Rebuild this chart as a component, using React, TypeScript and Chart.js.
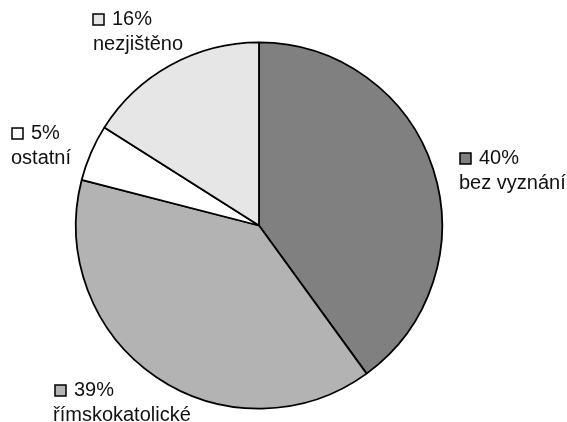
import React, { useEffect, useRef } from "react";
import { Chart, registerables } from "chart.js";

Chart.register(...registerables);

const categories = ["bez vyznání", "římskokatolické", "ostatní", "nezjištěno"];
const values = [40, 39, 5, 16];
const percentLabels = ["40%", "39%", "5%", "16%"];
const colors = ["#808080", "#b3b3b3", "#ffffff", "#e6e6e6"];
// label anchor (square left x, first-line baseline y, second-line x)
const labelPos = [
  [460, 164, 459],
  [55, 396, 53],
  [12, 139, 11],
  [93, 25, 93],
];

const labelPlugin = {
  id: "sliceLabels",
  afterDraw(chart: any) {
    const ctx = chart.ctx;
    ctx.save();
    ctx.font = '20px "Liberation Sans", Arial, sans-serif';
    ctx.textBaseline = "alphabetic";
    ctx.textAlign = "left";
    categories.forEach((cat, i) => {
      const [x, y, x2] = labelPos[i];
      const sq = 11;
      ctx.fillStyle = colors[i];
      ctx.fillRect(x, y - sq, sq, sq);
      ctx.strokeStyle = "#000";
      ctx.lineWidth = 1.5;
      ctx.strokeRect(x, y - sq, sq, sq);
      ctx.fillStyle = "#111";
      ctx.fillText(percentLabels[i], x + 19, y);
      ctx.fillText(cat, x2, y + 25);
    });
    ctx.restore();
  },
};

export default function App() {
  const ref = useRef<HTMLCanvasElement>(null);
  useEffect(() => {
    document.body.style.margin = "0";
    const chart = new Chart(ref.current!, {
      type: "pie",
      data: {
        labels: categories,
        datasets: [
          {
            data: values,
            backgroundColor: colors,
            borderColor: "#000",
            borderWidth: 1.8,
          },
        ],
      },
      options: {
        responsive: false,
        animation: false,
        layout: { padding: { left: 75, right: 124, top: 41, bottom: 12 } },
        plugins: {
          legend: { display: false },
          tooltip: { enabled: false },
        },
      },
      plugins: [labelPlugin],
    });
    return () => chart.destroy();
  }, []);
  return (
    <div style={{ position: "fixed", left: 0, top: 0, width: 567, height: 422, background: "#fff" }}>
      <canvas ref={ref} width={567} height={422} style={{ width: 567, height: 422 }} />
    </div>
  );
}
